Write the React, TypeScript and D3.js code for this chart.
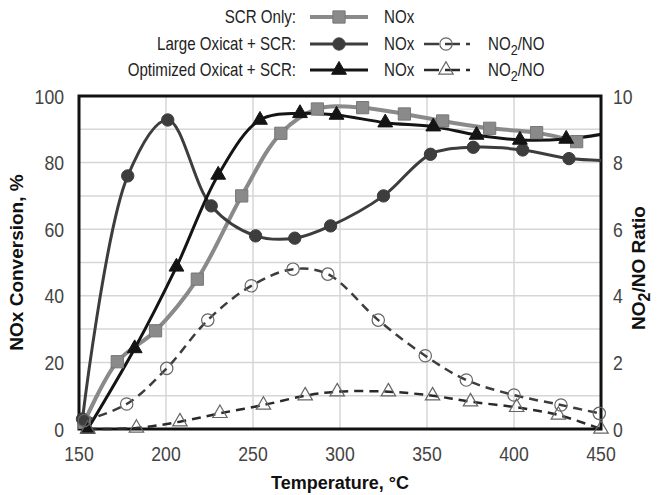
import React from 'react';
import * as d3 from 'd3';

// temperatures (°C) and values
const scrTemp = [153, 172, 194, 218, 243.5, 266, 287, 313, 337, 359, 386, 413, 436];
const scrNox = [2, 20.2, 29.5, 45, 70, 88.8, 96.1, 96.5, 94.6, 92.5, 90.3, 89, 86.3];

const largeTemp = [152, 178, 201, 226, 251.5, 274, 294.6, 325, 352, 376.6, 405, 431.6, 457];
const largeNox = [3, 76, 92.8, 67, 58, 57.3, 61, 70, 82.5, 84.6, 83.8, 81.2, 80.6];

const optTemp = [155, 182, 206, 230, 254, 277, 298, 326, 353.6, 378.5, 403.4, 430, 456];
const optNox = [0, 24.2, 48.7, 76.3, 92.8, 94.8, 94.3, 92, 90.8, 88.3, 86.8, 87.1, 89];

const largeRatioTemp = [153, 177.4, 200.4, 224, 249, 273, 293, 322, 349, 372.6, 400, 427, 449];
const largeRatio = [0.25, 0.75, 1.82, 3.27, 4.3, 4.8, 4.65, 3.27, 2.2, 1.47, 1.02, 0.72, 0.47];

const optRatioTemp = [155, 183, 208, 231, 256, 280, 298.4, 327.8, 353.2, 375, 401.5, 425.5, 450];
const optRatio = [0, 0.03, 0.22, 0.47, 0.72, 1.0, 1.12, 1.12, 1.0, 0.82, 0.65, 0.42, 0];

const xTicks = [150, 200, 250, 300, 350, 400, 450];
const yTicks = [0, 20, 40, 60, 80, 100];
const y2Ticks = [0, 2, 4, 6, 8, 10];

const W = 662;
const H = 495;
const plot = { left: 79, right: 601, top: 96, bottom: 429 };

const tickFont = '"Liberation Sans", Arial, sans-serif';
const titleFont = '"Liberation Sans", Arial, sans-serif';
const narrow = 0.84; // the reference uses a condensed face

export default function App() {
  const x = d3.scaleLinear().domain([150, 450]).range([plot.left, plot.right]);
  const y = d3.scaleLinear().domain([0, 100]).range([plot.bottom, plot.top]);
  const y2 = d3.scaleLinear().domain([0, 10]).range([plot.bottom, plot.top]);

  const mkLine = (ys: d3.ScaleLinear<number, number>) =>
    d3.line<[number, number]>()
      .x(d => x(d[0]))
      .y(d => ys(d[1]))
      .curve(d3.curveCatmullRom.alpha(0.5));

  const zip = (a: number[], b: number[]) => a.map((t, i) => [t, b[i]] as [number, number]);

  const series = [
    { pts: zip(scrTemp, scrNox), ys: y, stroke: '#8a8a8a', width: 4, dash: null, sym: d3.symbolSquare, size: 150, fill: '#8a8a8a', mstroke: '#777', mw: 1 },
    { pts: zip(largeTemp, largeNox), ys: y, stroke: '#3d3d3d', width: 3, dash: null, sym: d3.symbolCircle, size: 120, fill: '#3d3d3d', mstroke: '#3d3d3d', mw: 1 },
    { pts: zip(optTemp, optNox), ys: y, stroke: '#141414', width: 3, dash: null, sym: d3.symbolTriangle, size: 95, fill: '#141414', mstroke: '#141414', mw: 1 },
    { pts: zip(largeRatioTemp, largeRatio), ys: y2, stroke: '#3d3d3d', width: 2.5, dash: '9,6', sym: d3.symbolCircle, size: 120, fill: 'none', mstroke: '#666', mw: 1.2 },
    { pts: zip(optRatioTemp, optRatio), ys: y2, stroke: '#2a2a2a', width: 2.5, dash: '9,6', sym: d3.symbolTriangle, size: 90, fill: 'none', mstroke: '#666', mw: 1.2 },
  ];

  const sym = (type: d3.SymbolType, size: number) => d3.symbol().type(type).size(size)() as string;

  const legendRows = [
    { label: 'SCR Only:', y: 17, a: series[0], b: null },
    { label: 'Large Oxicat + SCR:', y: 44, a: series[1], b: series[3] },
    { label: 'Optimized Oxicat + SCR:', y: 70, a: series[2], b: series[4] },
  ];

  const tick = (key: string, tx: number, ty: number, anchor: string, v: number) => (
    <text key={key} transform={`translate(${tx},${ty}) scale(${narrow},1)`} dy="0.36em" textAnchor={anchor}>{v}</text>
  );

  return (
    <svg width={W} height={H} style={{ position: 'absolute', left: 0, top: 0, background: '#fff' }}>
      <defs>
        <clipPath id="plotClip">
          <rect x={plot.left} y={plot.top - 10} width={plot.right - plot.left} height={plot.bottom - plot.top + 20} />
        </clipPath>
      </defs>

      {/* grid */}
      <g stroke="#d6d6d6" strokeWidth={1.5}>
        {d3.range(10, 100, 10).map(v => (
          <line key={'h' + v} x1={plot.left} x2={plot.right} y1={y(v)} y2={y(v)} />
        ))}
        {xTicks.slice(1, -1).map(t => (
          <line key={'v' + t} x1={x(t)} x2={x(t)} y1={plot.top} y2={plot.bottom} />
        ))}
      </g>

      {/* frame */}
      <rect x={plot.left} y={plot.top} width={plot.right - plot.left} height={plot.bottom - plot.top}
        fill="none" stroke="#111" strokeWidth={3} />

      {/* lines */}
      <g clipPath="url(#plotClip)" fill="none">
        {series.map((s, i) => (
          <path key={i} d={mkLine(s.ys)(s.pts) as string} stroke={s.stroke} strokeWidth={s.width}
            strokeDasharray={s.dash || undefined} strokeLinejoin="round" />
        ))}
      </g>

      {/* markers */}
      {series.map((s, i) => (
        <g key={'m' + i}>
          {s.pts.filter(p => p[0] <= 450).map((p, j) => (
            <path key={j} d={sym(s.sym, s.size)} transform={`translate(${x(p[0])},${s.ys(p[1])})`}
              fill={s.fill} stroke={s.mstroke} strokeWidth={s.mw} />
          ))}
        </g>
      ))}

      {/* tick labels */}
      <g fontFamily={tickFont} fontSize={21} fill="#444">
        {yTicks.map(v => tick('y' + v, plot.left - 15, y(v), 'end', v))}
        {y2Ticks.map(v => tick('r' + v, plot.right + 12, y2(v), 'start', v))}
        {xTicks.map(t => tick('x' + t, x(t), plot.bottom + 24, 'middle', t))}
      </g>

      <text x={(plot.left + plot.right) / 2} y={489} textAnchor="middle" fontFamily={titleFont}
        fontWeight="bold" fontSize={18} fill="#111">Temperature, °C</text>
      <text transform={`translate(23,${(plot.top + plot.bottom) / 2}) rotate(-90)`} textAnchor="middle"
        fontFamily={titleFont} fontWeight="bold" fontSize={19} fill="#111">NOx Conversion, %</text>
      <text transform={`translate(645,268) rotate(-90)`} textAnchor="middle"
        fontFamily={titleFont} fontWeight="bold" fontSize={19} fill="#111">
        NO<tspan dy="5" fontSize={16}>2</tspan><tspan dy="-5">/NO Ratio</tspan>
      </text>

      {/* legend */}
      <g fontFamily={tickFont} fontSize={18} fill="#222">
        {legendRows.map((r, i) => (
          <g key={i}>
            <text transform={`translate(296,${r.y}) scale(${narrow},1)`} dy="0.35em" textAnchor="end">{r.label}</text>
            <line x1={310} x2={368} y1={r.y} y2={r.y} stroke={r.a.stroke} strokeWidth={r.a.width} />
            <path d={sym(r.a.sym, r.a.size)} transform={`translate(339,${r.y})`} fill={r.a.fill}
              stroke={r.a.mstroke} strokeWidth={r.a.mw} />
            <text transform={`translate(384,${r.y}) scale(${narrow},1)`} dy="0.35em">NOx</text>
            {r.b && (
              <g>
                <line x1={424} x2={470} y1={r.y} y2={r.y} stroke={r.b.stroke} strokeWidth={r.b.width}
                  strokeDasharray="15,6" />
                <path d={sym(r.b.sym, r.b.size)} transform={`translate(446,${r.y})`} fill="none"
                  stroke={r.b.mstroke} strokeWidth={r.b.mw} />
                <text transform={`translate(488,${r.y}) scale(${narrow},1)`} dy="0.35em">
                  NO<tspan dy="5" fontSize={15}>2</tspan><tspan dy="-5">/NO</tspan>
                </text>
              </g>
            )}
          </g>
        ))}
      </g>
    </svg>
  );
}
